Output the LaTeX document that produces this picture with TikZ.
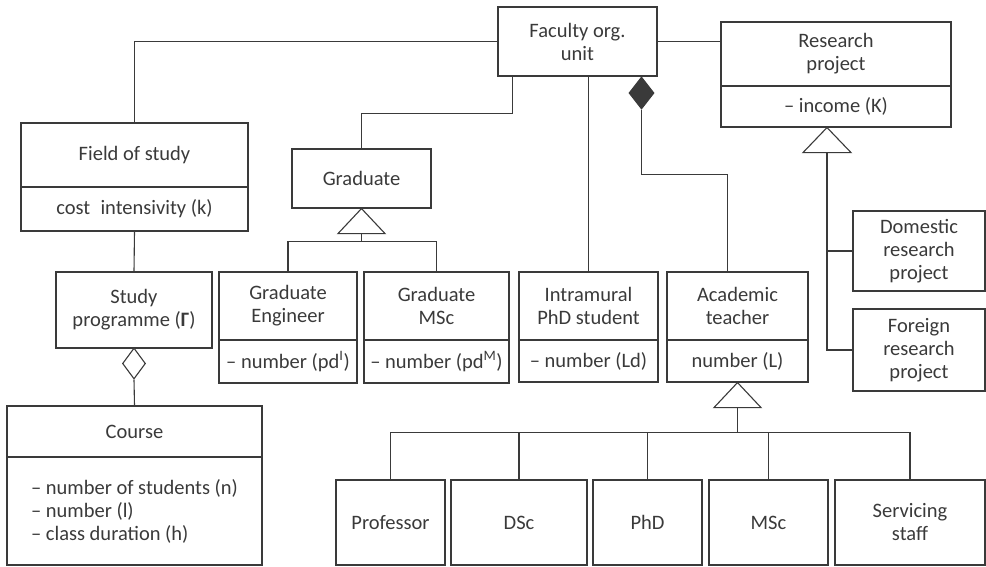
\documentclass[tikz,border=0pt]{standalone}
\usepackage{fontspec}
\setmainfont{Carlito}
\usetikzlibrary{shapes.geometric}

\definecolor{umlgray}{HTML}{3A3A3A}

\tikzset{
  cls/.style={draw, rectangle, align=center, inner sep=0pt},
  attr/.style={draw, rectangle, align=left, inner sep=0pt},
  gen/.style={draw, fill=white, line join=miter},
}

\begin{document}
\begin{tikzpicture}[x=1pt, y=-1pt, line width=1.1pt, color=umlgray,
                    font=\fontsize{20.5}{23}\selectfont]

            %\draw [help lines] (0,0) grid (986,566);
            \useasboundingbox (0,0) rectangle (986,566);

            % classes, top part
            \path   (577.5,41.5) node (fac) [cls, minimum width=159, minimum height=69] {Faculty org.\\unit}
                    (836,54)     node (res) [cls, minimum width=230, minimum height=64] {Research\\project}
                    (836,106.5)  node (resattr) [cls, minimum width=230, minimum height=41] {– income (K)}
                    (134.5,155)  node (field) [cls, minimum width=227, minimum height=64] {Field of study}
                    (134.5,209)  node (fieldattr) [cls, minimum width=227, minimum height=44] {cost\enspace intensivity (k)}
                    (134,310)    node (prog) [cls, minimum width=156, minimum height=76] {Study\\programme (\textbf{Γ})}
                    (134.5,431.5) node (course) [cls, minimum width=255, minimum height=51] {Course}
                    (134.5,511)  node (courseattr) [attr, minimum width=255, minimum height=108] {– number of students (n)\\– number (l)\\– class duration (h)}
                    (361.5,178.5) node (grad) [cls, minimum width=139, minimum height=59] {Graduate};

            % classes, middle row
            \path   (288,306)    node (gradeng) [cls, minimum width=138, minimum height=68] {Graduate\\Engineer}
                    (288,361.5)  node (gradengattr) [cls, minimum width=138, minimum height=43] {– number (pd\textsuperscript{I})}
                    (436.5,306)  node (gradmsc) [cls, minimum width=145, minimum height=68] {Graduate\\MSc}
                    (436.5,361.5) node (gradmscattr) [cls, minimum width=145, minimum height=43] {– number (pd\textsuperscript{M})}
                    (588.5,306)  node (phdst) [cls, minimum width=139, minimum height=68] {Intramural\\PhD student}
                    (588.5,361)  node (phdstattr) [cls, minimum width=139, minimum height=42] {– number (Ld)}
                    (737.5,306)  node (teacher) [cls, minimum width=141, minimum height=68] {Academic\\teacher}
                    (737.5,361)  node (teacherattr) [cls, minimum width=141, minimum height=42] {number (L)}
                    (919,251)    node (dom) [cls, minimum width=132, minimum height=80] {Domestic\\research\\project}
                    (919,350)    node (for) [cls, minimum width=132, minimum height=82] {Foreign\\research\\project};

            % classes, bottom row
            \path   (390.5,522.5) node (prof) [cls, minimum width=109, minimum height=85] {Professor}
                    (519,522.5)   node (dsc) [cls, minimum width=136, minimum height=85] {DSc}
                    (647.5,522.5) node (phd) [cls, minimum width=109, minimum height=85] {PhD}
                    (768.5,522.5) node (msc) [cls, minimum width=119, minimum height=85] {MSc}
                    (910,522.5)   node (serv) [cls, minimum width=150, minimum height=85] {Servicing\\staff};

            % aggregation and composition diamonds
            \path   (641.5,93)  node (comp) [diamond, draw, fill=umlgray, minimum width=25, minimum height=32, inner sep=0pt] {}
                    (134,363.5) node (agg) [diamond, draw, fill=white, minimum width=23, minimum height=31, inner sep=0pt] {};

            % associations
            \draw (fac.west) -| (field.north);
            \draw (fac.east) -- (fac.east -| res.west);
            \draw (grad.north) |- ([xshift=15pt,yshift=-37pt]fac.south west) -- ([xshift=15pt]fac.south west);
            \draw (phdst.north) -- (phdst.north |- fac.south);
            \draw (fieldattr.south) -- (prog.north);
            \draw (agg.south) -- (course.north);
            \draw (comp.south) |- ([xshift=-10pt,yshift=97pt]teacher.north) -- ([xshift=-10pt]teacher.north);

            % generalisation: graduate
            \draw[gen] (grad.south) -- ++(23.5,25) -- ++(-47,0) -- cycle;
            \coordinate (gradtri) at ([yshift=-25pt]grad.south);
            \draw (gradtri) -- ++(0,8) coordinate (gradbus);
            \draw (gradeng.north) |- (gradbus) -| (gradmsc.north);

            % generalisation: research project
            \draw[gen] ([xshift=-9pt]resattr.south) -- ++(24,25) -- ++(-48,0) -- cycle;
            \coordinate (restri) at ([xshift=-9pt,yshift=-25pt]resattr.south);
            \draw (restri) |- (for.west);
            \draw (dom.west) -- (dom.west -| restri);

            % generalisation: academic teacher
            \draw[gen] (teacherattr.south) -- ++(23.5,25) -- ++(-47,0) -- cycle;
            \coordinate (teachtri) at ([yshift=-25pt]teacherattr.south);
            \draw (teachtri) -- ++(0,25) coordinate (teachbus);
            \draw (prof.north) |- (teachbus) -| (serv.north);
            \draw (dsc.north) -- (dsc.north |- teachbus);
            \draw (phd.north) -- (phd.north |- teachbus);
            \draw (msc.north) -- (msc.north |- teachbus);

        \end{tikzpicture}
\end{document}
